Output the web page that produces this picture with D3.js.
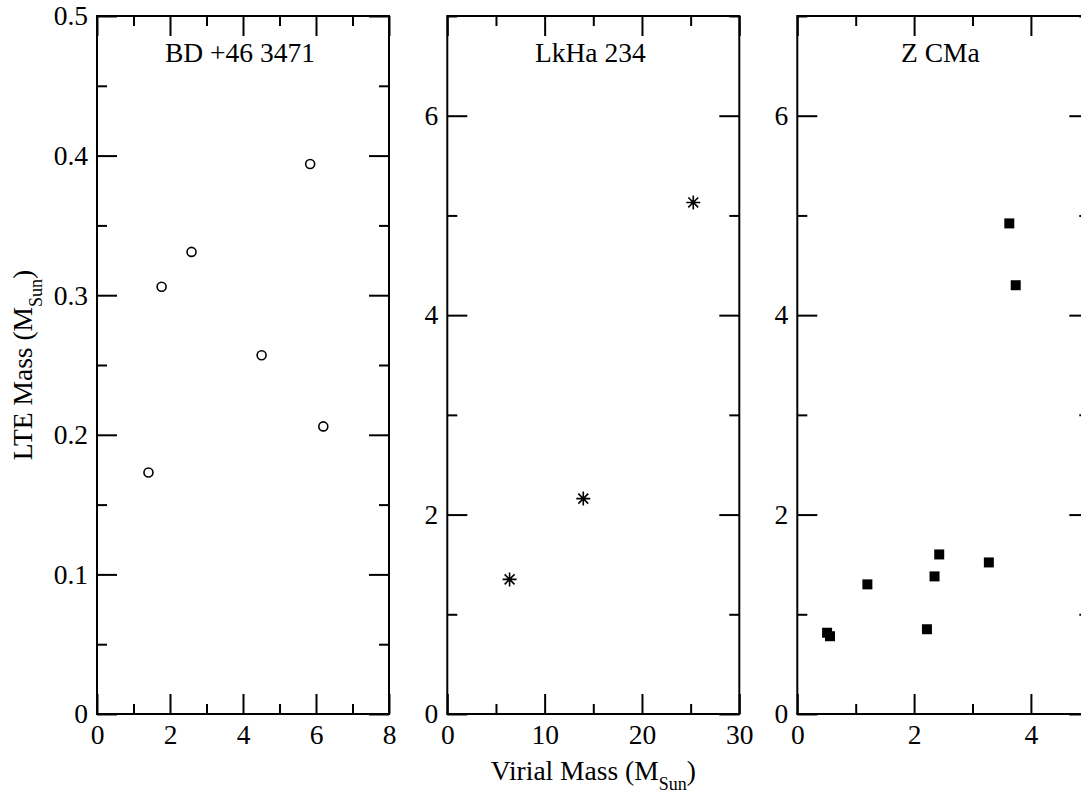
<!DOCTYPE html>
<html>
<head>
<meta charset="utf-8">
<script src="https://cdn.jsdelivr.net/npm/d3@7"></script>
<style>
  html, body { margin: 0; padding: 0; background: #fff; }
  svg { display: block; }
  text { font-family: "Liberation Serif", "Times New Roman", serif; fill: #000; }
</style>
</head>
<body>
<svg id="chart" width="1081" height="798"></svg>
<script>
// ---------- data ----------
const panelTitles = ["BD +46 3471", "LkHa 234", "Z CMa"];

const bdVirial = [1.41, 1.77, 2.59, 4.51, 5.84, 6.20];
const bdLTE    = [0.173, 0.306, 0.331, 0.257, 0.394, 0.206];

const lkVirial = [6.4, 13.97, 25.27];
const lkLTE    = [1.35, 2.16, 5.13];

const zVirial = [0.51, 0.56, 1.20, 2.22, 2.35, 2.43, 3.28, 3.63, 3.74];
const zLTE    = [0.815, 0.78, 1.30, 0.85, 1.38, 1.60, 1.52, 4.92, 4.30];

const xDomains = [[0, 8], [0, 30], [0, 5]];
const yDomains = [[0, 0.5], [0, 7], [0, 7]];
const xMajor = [[0, 2, 4, 6, 8], [0, 10, 20, 30], [0, 2, 4]];
const xMinor = [[1, 3, 5, 7], [5, 15, 25], [1, 3, 5]];
const yMajor = [[0, 0.1, 0.2, 0.3, 0.4, 0.5], [0, 2, 4, 6], [0, 2, 4, 6]];
const yMinor = [[0.05, 0.15, 0.25, 0.35, 0.45], [1, 3, 5, 7], [1, 3, 5, 7]];

const xAxisTitle = "Virial Mass (M";
const yAxisTitle = "LTE Mass (M";
const subText = "Sun";

// ---------- layout ----------
const svg = d3.select("#chart");
const plotTop = 16, plotBottom = 714;
const panelLefts = [97, 447.3, 797.3];
const panelW = 292;
const FS = 27.5;
const majorLen = 20, minorLen = 10;

const asterisk = {
  draw(ctx, size) {
    const r = Math.sqrt(size) / 2;
    const d = r * Math.SQRT1_2;
    ctx.moveTo(0, -r); ctx.lineTo(0, r);
    ctx.moveTo(-r, 0); ctx.lineTo(r, 0);
    ctx.moveTo(-d, -d); ctx.lineTo(d, d);
    ctx.moveTo(-d, d); ctx.lineTo(d, -d);
  }
};

const datasets = [
  { xs: bdVirial, ys: bdLTE, kind: "circle" },
  { xs: lkVirial, ys: lkLTE, kind: "asterisk" },
  { xs: zVirial, ys: zLTE, kind: "square" }
];

const fmt = d3.format("~g");

datasets.forEach((ds, i) => {
  const left = panelLefts[i];
  const x = d3.scaleLinear().domain(xDomains[i]).range([left, left + panelW]);
  const y = d3.scaleLinear().domain(yDomains[i]).range([plotBottom, plotTop]);
  const g = svg.append("g");

  function styleAxis(sel) {
    sel.select(".domain").remove();
    sel.selectAll("line").attr("stroke", "#000").attr("stroke-width", 2);
    sel.selectAll("text").style("font-size", FS + "px")
      .style("font-family", '"Liberation Serif", serif');
  }

  // bottom
  g.append("g").attr("transform", `translate(0,${plotBottom})`)
    .call(d3.axisBottom(x).tickValues(xMajor[i]).tickFormat(fmt).tickSize(-majorLen).tickPadding(10))
    .call(styleAxis);
  g.append("g").attr("transform", `translate(0,${plotBottom})`)
    .call(d3.axisBottom(x).tickValues(xMinor[i]).tickFormat("").tickSize(-minorLen))
    .call(styleAxis);
  // top
  g.append("g").attr("transform", `translate(0,${plotTop})`)
    .call(d3.axisTop(x).tickValues(xMajor[i]).tickFormat("").tickSize(-majorLen))
    .call(styleAxis);
  g.append("g").attr("transform", `translate(0,${plotTop})`)
    .call(d3.axisTop(x).tickValues(xMinor[i]).tickFormat("").tickSize(-minorLen))
    .call(styleAxis);
  // left
  g.append("g").attr("transform", `translate(${left},0)`)
    .call(d3.axisLeft(y).tickValues(yMajor[i]).tickFormat(fmt).tickSize(-majorLen).tickPadding(9))
    .call(styleAxis);
  g.append("g").attr("transform", `translate(${left},0)`)
    .call(d3.axisLeft(y).tickValues(yMinor[i]).tickFormat("").tickSize(-minorLen))
    .call(styleAxis);
  // right
  g.append("g").attr("transform", `translate(${left + panelW},0)`)
    .call(d3.axisRight(y).tickValues(yMajor[i]).tickFormat("").tickSize(-majorLen))
    .call(styleAxis);
  g.append("g").attr("transform", `translate(${left + panelW},0)`)
    .call(d3.axisRight(y).tickValues(yMinor[i]).tickFormat("").tickSize(-minorLen))
    .call(styleAxis);

  // frame
  g.append("rect")
    .attr("x", left).attr("y", plotTop)
    .attr("width", panelW).attr("height", plotBottom - plotTop)
    .attr("fill", "none").attr("stroke", "#000").attr("stroke-width", 2);

  // title
  g.append("text")
    .attr("x", left + panelW / 2 - 3)
    .attr("y", 62)
    .attr("text-anchor", "middle")
    .style("font-size", FS + "px")
    .text(panelTitles[i]);

  // points
  const pts = ds.xs.map((v, k) => [v, ds.ys[k]]);
  if (ds.kind === "circle") {
    g.selectAll("circle.pt").data(pts).enter().append("circle")
      .attr("class", "pt")
      .attr("cx", d => x(d[0])).attr("cy", d => y(d[1]))
      .attr("r", 4.5)
      .attr("fill", "none").attr("stroke", "#000").attr("stroke-width", 1.6);
  } else if (ds.kind === "asterisk") {
    g.selectAll("path.pt").data(pts).enter().append("path")
      .attr("class", "pt")
      .attr("transform", d => `translate(${x(d[0])},${y(d[1])})`)
      .attr("d", d3.symbol().type(asterisk).size(14 * 14))
      .attr("fill", "none").attr("stroke", "#000").attr("stroke-width", 1.6);
  } else {
    g.selectAll("path.pt").data(pts).enter().append("path")
      .attr("class", "pt")
      .attr("transform", d => `translate(${x(d[0])},${y(d[1])})`)
      .attr("d", d3.symbol().type(d3.symbolSquare).size(10 * 10))
      .attr("fill", "#000");
  }
});

// x-axis title
const xt = svg.append("text")
  .attr("x", (panelLefts[1] + panelLefts[1] + panelW) / 2)
  .attr("y", 780)
  .attr("text-anchor", "middle")
  .style("font-size", FS + "px");
xt.append("tspan").text(xAxisTitle);
xt.append("tspan").attr("dy", 10).style("font-size", "18px").text(subText);
xt.append("tspan").attr("dy", -10).text(")");

// y-axis title
const yt = svg.append("text")
  .attr("transform", `translate(32,${(plotTop + plotBottom) / 2}) rotate(-90)`)
  .attr("text-anchor", "middle")
  .style("font-size", FS + "px");
yt.append("tspan").text(yAxisTitle);
yt.append("tspan").attr("dy", 10).style("font-size", "18px").text(subText);
yt.append("tspan").attr("dy", -10).text(")");
</script>
</body>
</html>
